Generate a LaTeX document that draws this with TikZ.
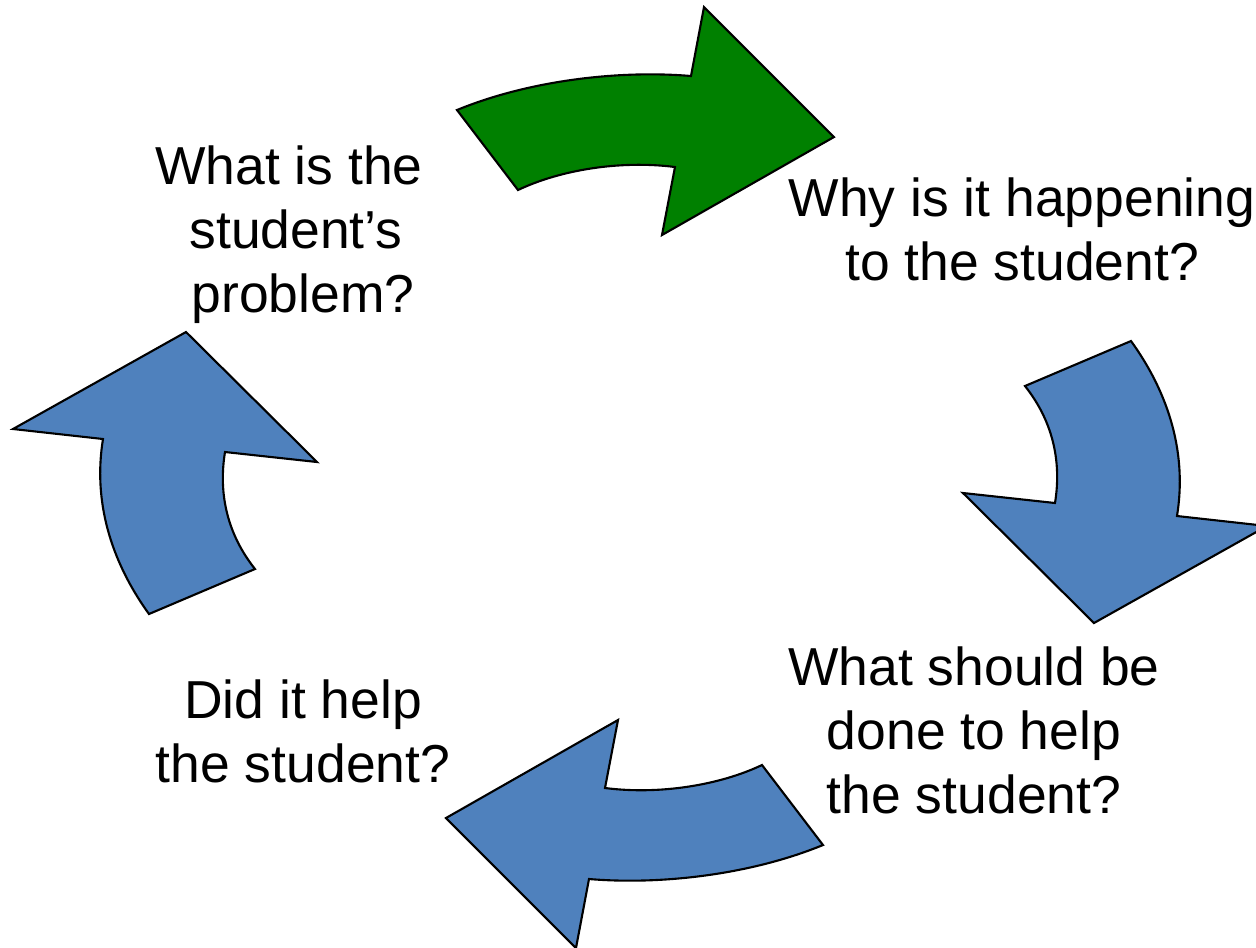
\documentclass[tikz,border=0pt]{standalone}
\usepackage{fontspec}
\setmainfont{Liberation Sans}
\definecolor{cyclegreen}{RGB}{0,128,0}
\definecolor{cycleblue}{RGB}{79,129,189}
\begin{document}
\begin{tikzpicture}[x=0.01cm,y=-0.01cm,
  bigarrow/.style={draw=black,line width=0.6pt,line join=miter},
  question/.style={align=center,inner sep=0pt,font=\fontsize{15.2}{18.2}\selectfont}]
\useasboundingbox (0,0) rectangle (1256,947);
\clip (0,0) rectangle (1256,947);
\draw[bigarrow,fill=cyclegreen] (457,110) .. controls (530,80) and (620,70) .. (691,76) -- (704,7) -- (834,137) -- (662,235) -- (675,167) .. controls (620,160) and (560,170) .. (518,190) -- cycle;
\draw[bigarrow,fill=cycleblue] (1025,386) -- (1131,341) .. controls (1170,395) and (1187,455) .. (1177,516) -- (1267,526) -- (1094,623) -- (963,493) -- (1055,503) .. controls (1062,460) and (1052,420) .. (1025,386) -- cycle;
\draw[bigarrow,fill=cycleblue] (823,845) .. controls (750,875) and (660,885) .. (589,879) -- (576,948) -- (446,818) -- (618,720) -- (605,788) .. controls (660,795) and (720,785) .. (762,765) -- cycle;
\draw[bigarrow,fill=cycleblue] (255,569) -- (149,614) .. controls (110,560) and (93,500) .. (103,439) -- (13,429) -- (186,332) -- (317,462) -- (225,452) .. controls (218,495) and (228,535) .. (255,569) -- cycle;
\node[question] (problem) at (296,235) {What is the\hspace*{0.14cm}\\student’s\\\hspace*{0.14cm}problem?};
\node[question] (why) at (1022,229) {Why is it happening\\to the student?};
\node[question] (help) at (974,730) {What should be\\done to help\\the student?};
\node[question] (check) at (303,731) {Did it help\\the student?};
\end{tikzpicture}
\end{document}
